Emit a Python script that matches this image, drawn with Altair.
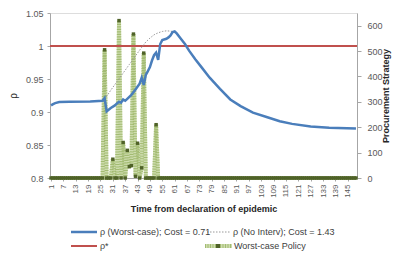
import altair as alt
import pandas as pd

# ---- data ----
worst_days = [1, 2, 3, 5, 10, 20, 26, 27, 28, 30, 32, 33, 34, 35, 36, 37, 38, 40, 42, 44, 45, 46,
              47, 48, 49, 50, 51, 52, 53, 54, 55, 57, 58, 59, 60, 61, 62, 64, 66, 68, 71, 74, 78,
              83, 88, 93, 99, 106, 112, 118, 127, 136, 149]
worst_rho = [0.910, 0.912, 0.9135, 0.915, 0.9157, 0.916, 0.917, 0.921, 0.901, 0.906, 0.910, 0.913,
             0.9155, 0.914, 0.919, 0.917, 0.920, 0.926, 0.934, 0.943, 0.952, 0.941, 0.956, 0.962,
             0.968, 0.978, 0.986, 0.990, 0.979, 1.003, 1.009, 1.011, 1.013, 1.016, 1.021, 1.022,
             1.019, 1.011, 1.003, 0.993, 0.980, 0.968, 0.952, 0.935, 0.919, 0.909, 0.899, 0.892,
             0.886, 0.882, 0.878, 0.876, 0.875]

nointerv_days = [26, 27, 30, 33, 36, 39, 42, 45, 47, 49, 51, 53, 55, 57, 59, 60]
nointerv_rho = [0.916, 0.919, 0.933, 0.946, 0.959, 0.972, 0.985, 0.998, 1.006, 1.012, 1.017,
                1.020, 1.022, 1.023, 1.0225, 1.022]

rho_star = 1.0

n_days = 149
spike_days = [27, 31, 34, 36, 38, 39, 40, 41, 42, 43, 45, 46, 52]
spike_vals = [505, 74, 620, 140, 109, 45, 49, 567, 7, 137, 40, 492, 210]

x_ticks = list(range(1, 146, 6))
left_ticks = [0.8, 0.85, 0.9, 0.95, 1.0, 1.05]
right_ticks = [0, 100, 200, 300, 400, 500, 600]

legend_labels = ["ρ (Worst-case); Cost = 0.71", "ρ (No Interv); Cost = 1.43", "ρ*", "Worst-case Policy"]

# ---- tables ----
policy_map = dict(zip(spike_days, spike_vals))
policy_df = pd.DataFrame({"day": list(range(1, n_days + 1)),
                          "v": [policy_map.get(d, 0) for d in range(1, n_days + 1)]})
worst_df = pd.DataFrame({"day": worst_days, "rho": worst_rho})
noint_df = pd.DataFrame({"day": nointerv_days, "rho": nointerv_rho})
star_df = pd.DataFrame({"rho": [rho_star]})

FONT = "Liberation Sans"
W, H = 307, 165
xscale = alt.Scale(domain=[0.5, n_days + 0.5], nice=False, zero=False)
yl = alt.Scale(domain=[0.8, 1.05], nice=False, zero=False)
yr = alt.Scale(domain=[0, 650], nice=False)

xaxis = alt.Axis(values=x_ticks, tickCount=200, labelAngle=-90, labelFontSize=8,
                 labelColor="#595959", labelFont=FONT, grid=False, tickSize=3,
                 tickColor="#a6a6a6", domainColor="#a6a6a6", labelAlign="right",
                 labelBaseline="middle", labelPadding=3, labelOverlap=False,
                 title="Time from declaration of epidemic", titleFont=FONT, titleFontSize=9,
                 titleFontWeight="bold", titleColor="#262626", titleY=30, titleBaseline="middle")
laxis = alt.Axis(values=left_ticks, tickCount=50, orient="left", format="~g", labelFontSize=9,
                 labelColor="#595959", labelFont=FONT, labelOverlap=False, gridColor="#b5b5b5",
                 gridWidth=1, tickSize=3, tickColor="#a6a6a6", domainColor="#a6a6a6",
                 labelPadding=4, title="ρ", titleFont=FONT, titleFontSize=10,
                 titleFontWeight="normal", titleColor="#262626", titleX=-32, titleAngle=270)
raxis = alt.Axis(values=right_ticks, tickCount=50, orient="right", labelFontSize=9,
                 labelColor="#595959", labelFont=FONT, labelOverlap=False, grid=False, tickSize=4,
                 tickColor="#a6a6a6", domainColor="#a6a6a6", labelPadding=6,
                 title="Procurement Strategy", titleFont=FONT, titleFontSize=9,
                 titleFontWeight="bold", titleColor="#262626", titleAngle=270, titleX=33)

g_line = alt.Chart(policy_df).mark_line(color="#cddcae", strokeWidth=4).encode(
    x=alt.X("day:Q", scale=xscale, axis=xaxis), y=alt.Y("v:Q", scale=yr, axis=raxis))
g_tex = alt.Chart(policy_df).mark_line(color="#a3bb72", strokeWidth=4, strokeDash=[1, 1.5]).encode(
    x=alt.X("day:Q", scale=xscale, axis=xaxis), y=alt.Y("v:Q", scale=yr, axis=raxis))
g_pts = alt.Chart(policy_df).mark_square(color="#4f6228", size=12, opacity=1).encode(
    x=alt.X("day:Q", scale=xscale, axis=xaxis), y=alt.Y("v:Q", scale=yr, axis=raxis))
right = alt.layer(g_line, g_tex, g_pts)

red = alt.Chart(star_df).mark_rule(color="#c0504d", strokeWidth=2).encode(
    y=alt.Y("rho:Q", scale=yl, axis=laxis))
dotted = alt.Chart(noint_df).mark_line(color="#999999", strokeWidth=1, strokeDash=[1.5, 1.5]).encode(
    x=alt.X("day:Q", scale=xscale, axis=xaxis), y=alt.Y("rho:Q", scale=yl, axis=laxis))
blue = alt.Chart(worst_df).mark_line(color="#4a7ebb", strokeWidth=2.5).encode(
    x=alt.X("day:Q", scale=xscale, axis=xaxis), y=alt.Y("rho:Q", scale=yl, axis=laxis))
left = alt.layer(red, dotted, blue)

# ---- manual legend (view coordinates) ----
r1, r2 = 219, 233
one = pd.DataFrame({"a": [0]})
leg = [
    alt.Chart(one).mark_rule(color="#4a7ebb", strokeWidth=2.5).encode(
        x=alt.value(21), x2=alt.value(47), y=alt.value(r1)),
    alt.Chart(one).mark_rule(color="#999999", strokeWidth=1, strokeDash=[1.5, 1.5]).encode(
        x=alt.value(157), x2=alt.value(180), y=alt.value(r1)),
    alt.Chart(one).mark_rule(color="#c0504d", strokeWidth=2).encode(
        x=alt.value(21), x2=alt.value(47), y=alt.value(r2)),
    alt.Chart(one).mark_rule(color="#cddcae", strokeWidth=4).encode(
        x=alt.value(155), x2=alt.value(182), y=alt.value(r2)),
    alt.Chart(one).mark_rule(color="#a3bb72", strokeWidth=4, strokeDash=[1, 1.5]).encode(
        x=alt.value(155), x2=alt.value(182), y=alt.value(r2)),
    alt.Chart(one).mark_square(color="#4f6228", size=16, opacity=1).encode(
        x=alt.value(168), y=alt.value(r2)),
]
pos = [(50, r1), (183, r1), (50, r2), (184, r2)]
for (lx, ly), lab in zip(pos, legend_labels):
    leg.append(alt.Chart(pd.DataFrame({"t": [lab]})).mark_text(
        align="left", baseline="middle", font=FONT, fontSize=9, color="#404040").encode(
        x=alt.value(lx), y=alt.value(ly), text="t:N"))

chart = alt.layer(right, left, *leg).resolve_scale(y="independent").properties(
    width=W, height=H,
    autosize=alt.AutoSizeParams(type="none"),
    padding={"left": 42, "top": 5, "right": 40, "bottom": 73},
).configure_view(stroke=None).configure(background="white")

chart.save("out.html", embed_options={"renderer": "svg", "actions": False})
